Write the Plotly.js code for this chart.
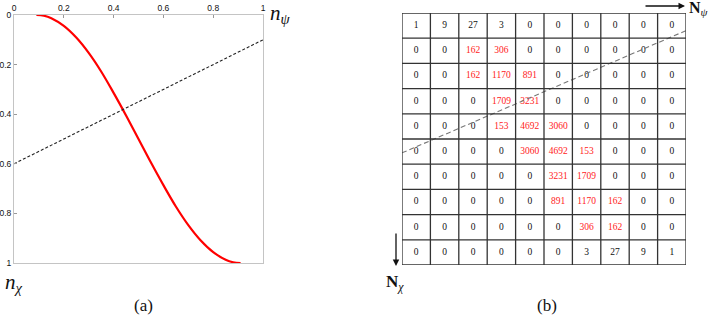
<!DOCTYPE html>
<html><head><meta charset="utf-8">
<script src="https://cdn.plot.ly/plotly-3.0.1.min.js"></script>
<style>html,body{margin:0;padding:0;background:#fff}</style>
</head><body><div id="chart" style="width:714px;height:318px"></div>
<script>
// Panel (a): red curve n_chi vs n_psi
var curveX = [0.09,0.12,0.15,0.2,0.25,0.3,0.35,0.4,0.45,0.5,0.55,0.6,0.65,0.7,0.75,0.8,0.85,0.88,0.91];
var curveY = [0,0.003,0.013,0.044,0.091,0.153,0.228,0.314,0.405,0.5,0.595,0.686,0.772,0.847,0.909,0.956,0.987,0.997,1];
// Dashed line in (a)
var dashX = [0, 1];
var dashY = [0.6, 0.1];
var tickVals = [0,0.2,0.4,0.6,0.8,1];
var tickText = ['0','0.2','0.4','0.6','0.8','1'];

// Panel (b): 10x10 table
var table = [
 [1,9,27,3,0,0,0,0,0,0],
 [0,0,162,306,0,0,0,0,0,0],
 [0,0,162,1170,891,0,0,0,0,0],
 [0,0,0,1709,3231,0,0,0,0,0],
 [0,0,0,153,4692,3060,0,0,0,0],
 [0,0,0,0,3060,4692,153,0,0,0],
 [0,0,0,0,0,3231,1709,0,0,0],
 [0,0,0,0,0,891,1170,162,0,0],
 [0,0,0,0,0,0,306,162,0,0],
 [0,0,0,0,0,0,3,27,9,1]
];
var redRows = [1,2,3,4,5,6,7,8];
// Dashed line in (b), in cell units
var dashBX = [0, 10];
var dashBY = [5.55, 0.7];

var nRows = table.length, nCols = table[0].length;
var cx=[], cy=[], ct=[], cc=[];
for (var r=0;r<nRows;r++){
  for (var c=0;c<nCols;c++){
    cx.push(c+0.5); cy.push(r+0.5); ct.push(String(table[r][c]));
    cc.push((redRows.indexOf(r)>=0 && table[r][c]!==0) ? '#ff1a1a' : '#111');
  }
}
var shapes = [];
for (var i=0;i<=nCols;i++){
  shapes.push({type:'line', xref:'x2', yref:'y2', x0:i, x1:i, y0:0, y1:nRows, line:{color:'#333', width:1.3}});
}
for (var j=0;j<=nRows;j++){
  shapes.push({type:'line', xref:'x2', yref:'y2', x0:0, x1:nCols, y0:j, y1:j, line:{color:'#333', width:1.3}});
}

var traces = [
 {x:curveX, y:curveY, mode:'lines', line:{color:'#ff0000', width:2.2, shape:'spline'}, xaxis:'x', yaxis:'y', hoverinfo:'skip'},
 {x:dashX, y:dashY, mode:'lines', line:{color:'#222', width:1.1, dash:'3px,2px'}, xaxis:'x', yaxis:'y', hoverinfo:'skip'},
 {x:cx, y:cy, text:ct, mode:'text', textfont:{family:'Liberation Serif, serif', size:9.5, color:cc}, xaxis:'x2', yaxis:'y2', hoverinfo:'skip'},
 {x:dashBX, y:dashBY, mode:'lines', line:{color:'#777', width:1.1, dash:'5px,3px'}, xaxis:'x2', yaxis:'y2', hoverinfo:'skip'}
];

var W=714, H=318;
function px(x){return x/W;} function py(y){return 1-y/H;}
var layout = {
  width:W, height:H, margin:{l:0,r:0,t:0,b:0}, showlegend:false,
  paper_bgcolor:'#fff', plot_bgcolor:'#fff', shapes:shapes,
  xaxis:{domain:[px(14),px(263)], range:[0,1], side:'top', tickvals:tickVals, ticktext:tickText,
    ticks:'inside', ticklen:3, tickcolor:'#999', showgrid:false, zeroline:false, showline:true, mirror:true, linecolor:'#c4c4c4', linewidth:1,
    tickfont:{family:'Liberation Sans, Arial', size:8.5, color:'#111'}, anchor:'y'},
  yaxis:{domain:[py(263),py(15)], range:[1,0], tickvals:tickVals, ticktext:tickText,
    ticks:'inside', ticklen:3, tickcolor:'#999', showgrid:false, zeroline:false, showline:true, mirror:true, linecolor:'#c4c4c4', linewidth:1,
    tickfont:{family:'Liberation Sans, Arial', size:8.5, color:'#111'}, anchor:'x'},
  xaxis2:{domain:[px(402),px(686)], range:[0,10], showticklabels:false, ticks:'', showgrid:false,
    zeroline:false, showline:false, anchor:'y2'},
  yaxis2:{domain:[py(265),py(13)], range:[10,0], showticklabels:false, ticks:'', showgrid:false,
    zeroline:false, showline:false, anchor:'x2'},
  annotations:[
    {xref:'paper', yref:'paper', x:px(268), y:py(14), xanchor:'left', yanchor:'middle', showarrow:false,
     text:'<i>n</i><sub><i>ψ</i></sub>', font:{family:'Liberation Serif, serif', size:21, color:'#111'}},
    {xref:'paper', yref:'paper', x:px(3), y:py(283), xanchor:'left', yanchor:'middle', showarrow:false,
     text:'<i>n</i><sub><i>χ</i></sub>', font:{family:'Liberation Serif, serif', size:21, color:'#111'}},
    {xref:'paper', yref:'paper', x:px(143), y:py(305), xanchor:'center', yanchor:'middle', showarrow:false,
     text:'(a)', font:{family:'Liberation Serif, serif', size:17, color:'#111'}},
    {xref:'paper', yref:'paper', x:px(547), y:py(305), xanchor:'center', yanchor:'middle', showarrow:false,
     text:'(b)', font:{family:'Liberation Serif, serif', size:17, color:'#111'}},
    {xref:'paper', yref:'paper', x:px(685), y:py(6), ax:-41, ay:0, text:'', showarrow:true, arrowhead:2, arrowsize:1, arrowwidth:1.3, arrowcolor:'#111'},
    {xref:'paper', yref:'paper', x:px(687), y:py(9), xanchor:'left', yanchor:'middle', showarrow:false,
     text:'<b>N</b><sub><i>ψ</i></sub>', font:{family:'Liberation Serif, serif', size:16, color:'#111'}},
    {xref:'paper', yref:'paper', x:px(396), y:py(266), ax:0, ay:-34, text:'', showarrow:true, arrowhead:2, arrowsize:1, arrowwidth:1.3, arrowcolor:'#111'},
    {xref:'paper', yref:'paper', x:px(384), y:py(283), xanchor:'left', yanchor:'middle', showarrow:false,
     text:'<b>N</b><sub><i>χ</i></sub>', font:{family:'Liberation Serif, serif', size:17, color:'#111'}}
  ]
};
Plotly.newPlot('chart', traces, layout, {staticPlot:true, displayModeBar:false});
</script></body></html>
